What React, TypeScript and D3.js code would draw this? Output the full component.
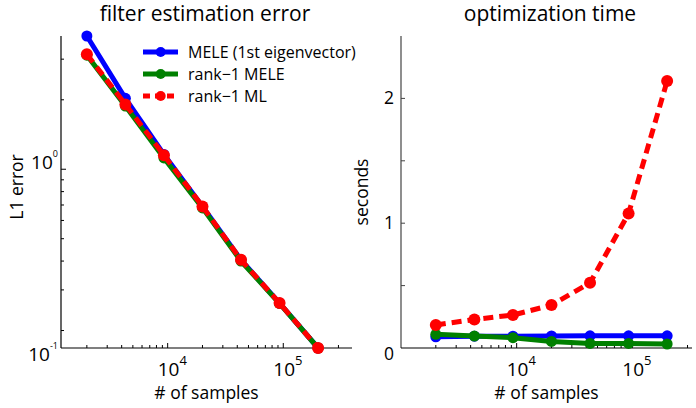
import * as d3 from 'd3'

// sample sizes (log-spaced, 2e3 .. 2e5)
const N_SAMPLES = [2000, 4309, 9283, 20000, 43089, 92832, 200000]

// filter estimation error (L1)
const ERR_MELE_EIG = [3.78, 2.03, 1.16, 0.69, 0.405, 0.263, 0.168]
const ERR_RANK1_MELE = [3.12, 1.88, 1.12, 0.68, 0.4, 0.262, 0.168]
const ERR_RANK1_ML = [3.15, 1.91, 1.15, 0.69, 0.405, 0.263, 0.168]

// optimization time (seconds)
const TIME_MELE_EIG = [0.09, 0.095, 0.095, 0.097, 0.098, 0.098, 0.098]
const TIME_RANK1_MELE = [0.11, 0.096, 0.083, 0.053, 0.037, 0.037, 0.032]
const TIME_RANK1_ML = [0.184, 0.229, 0.264, 0.344, 0.522, 1.078, 2.14]

const SERIES_NAMES = ['MELE (1st eigenvector)', 'rank\u22121 MELE', 'rank\u22121 ML']
const SERIES_COLORS = ['#0000ff', '#008000', '#ff0000']
const SERIES_DASH = [null, null, '10,6']

const TITLES = ['filter estimation error', 'optimization time']
const X_LABEL = '# of samples'
const Y_LABELS = ['L1 error', 'seconds']
const X_MAJOR_LABELS = [1e4, 1e5]
const Y_RIGHT_LABELS = [0, 1, 2]
const Y_RIGHT_TICKS = [0.5, 1, 1.5, 2]

const FONT = "'Open Sans', sans-serif"
const W = 696
const H = 408
const TOP = 36
const BOTTOM = 348

type Series = { name: string; color: string; dash: string | null; values: number[] }

const leftSeries: Series[] = [ERR_MELE_EIG, ERR_RANK1_MELE, ERR_RANK1_ML].map((v, i) => ({
  name: SERIES_NAMES[i], color: SERIES_COLORS[i], dash: SERIES_DASH[i], values: v,
}))
const rightSeries: Series[] = [TIME_MELE_EIG, TIME_RANK1_MELE, TIME_RANK1_ML].map((v, i) => ({
  name: SERIES_NAMES[i], color: SERIES_COLORS[i], dash: SERIES_DASH[i], values: v,
}))

function XAxis({ x, color }: { x: d3.ScaleLogarithmic<number, number>; color: string }) {
  const [x0, x1] = x.range()
  const ticks = x.ticks().filter(t => x(t) > x0 + 1 && x(t) < x1 - 1)
  return (
    <g>
      <line x1={x0} x2={x1} y1={BOTTOM} y2={BOTTOM} stroke={color} strokeWidth={1.2} />
      {ticks.map((t, i) => {
        const major = Math.abs(Math.log10(t) - Math.round(Math.log10(t))) < 1e-9
        return (
          <line key={i} x1={x(t)} x2={x(t)} y1={BOTTOM} y2={BOTTOM - (major ? 5 : 3)}
            stroke={color} strokeWidth={1} />
        )
      })}
      {X_MAJOR_LABELS.map(t => (
        <text key={t} x={x(t) - 10} y={376} fontSize={19} fontFamily={FONT} fill="#000">
          10<tspan fontSize={13} dy={-11}>{Math.log10(t)}</tspan>
        </text>
      ))}
      <text x={(x0 + x1) / 2} y={399} fontSize={17.5} fontFamily={FONT} textAnchor="middle">{X_LABEL}</text>
    </g>
  )
}

function Lines({ x, y, series }: { x: d3.ScaleLogarithmic<number, number>; y: (v: number) => number; series: Series[] }) {
  const line = d3.line<number>().x((_, i) => x(N_SAMPLES[i])).y(d => y(d))
  return (
    <g>
      {series.map(s => (
        <g key={s.name}>
          <path d={line(s.values) || ''} fill="none" stroke={s.color} strokeWidth={5}
            strokeDasharray={s.dash || undefined} />
          {s.values.map((v, i) => (
            <circle key={i} cx={x(N_SAMPLES[i])} cy={y(v)} r={s.dash ? 6 : 5.5} fill={s.color} />
          ))}
        </g>
      ))}
    </g>
  )
}

export default function App() {
  // left panel: log-log
  const xL = d3.scaleLog().domain([1195, 3.93e5]).range([61, 352])
  const yL = d3.scaleLog().domain([0.168, 3.78]).range([BOTTOM, TOP])
  // right panel: log-linear
  const xR = d3.scaleLog().domain([1000, 3.28e5]).range([401, 692])
  const yR = d3.scaleLinear().domain([0, 2.5]).range([BOTTOM, TOP])

  const yLTicks = yL.ticks()
  const yLabelVals = [yL.domain()[0], 1]
  const yLabelExp = ['-1', '0']

  return (
    <svg width={W} height={H} style={{ position: 'absolute', left: 0, top: 0, background: '#fff' }}>
      {/* ---- left: filter estimation error ---- */}
      <text x={205} y={21} fontSize={21} fontFamily={FONT} textAnchor="middle">{TITLES[0]}</text>
      <line x1={61} x2={61} y1={TOP} y2={BOTTOM} stroke="#000" strokeWidth={1.2} />
      {yLTicks.map((t, i) => (
        <line key={i} x1={61} x2={61 + (t === 1 ? 5 : 3)} y1={yL(t)} y2={yL(t)} stroke="#000" />
      ))}
      {yLabelVals.map((v, i) => (
        <text key={i} x={58} y={yL(v) + (i === 0 ? 13 : 0)} fontSize={19} fontFamily={FONT} textAnchor="end">
          10<tspan fontSize={9} dy={-12}>{yLabelExp[i]}</tspan>
        </text>
      ))}
      <text transform={`translate(23,187) rotate(-90)`} fontSize={17.5} fontFamily={FONT} textAnchor="middle">
        {Y_LABELS[0]}
      </text>
      <XAxis x={xL} color="#000" />
      <Lines x={xL} y={v => yL(v)} series={leftSeries} />

      {/* legend */}
      {leftSeries.map((s, i) => {
        const ly = 52 + i * 22
        return (
          <g key={s.name}>
            <line x1={143} x2={178} y1={ly} y2={ly} stroke={s.color} strokeWidth={5}
              strokeDasharray={s.dash ? '7,5' : undefined} />
            <circle cx={160.7} cy={ly} r={5} fill={s.color} />
            <text x={188} y={ly + 6} fontSize={16} fontFamily={FONT}>{s.name}</text>
          </g>
        )
      })}

      {/* ---- right: optimization time ---- */}
      <text x={550} y={21} fontSize={21} fontFamily={FONT} textAnchor="middle">{TITLES[1]}</text>
      <line x1={401} x2={401} y1={TOP} y2={BOTTOM} stroke="#444" strokeWidth={1.2} />
      {Y_RIGHT_TICKS.map(t => (
        <line key={t} x1={401} x2={405} y1={yR(t)} y2={yR(t)} stroke="#444" />
      ))}
      {Y_RIGHT_LABELS.map(t => (
        <text key={t} x={389} y={yR(t) + (t === 0 ? 12 : 6)} fontSize={17.5} fontFamily={FONT} textAnchor="middle">
          {t}
        </text>
      ))}
      <text transform={`translate(368,192) rotate(-90)`} fontSize={17.5} fontFamily={FONT} textAnchor="middle">
        {Y_LABELS[1]}
      </text>
      <XAxis x={xR} color="#000" />
      <Lines x={xR} y={v => yR(v)} series={rightSeries} />
    </svg>
  )
}
